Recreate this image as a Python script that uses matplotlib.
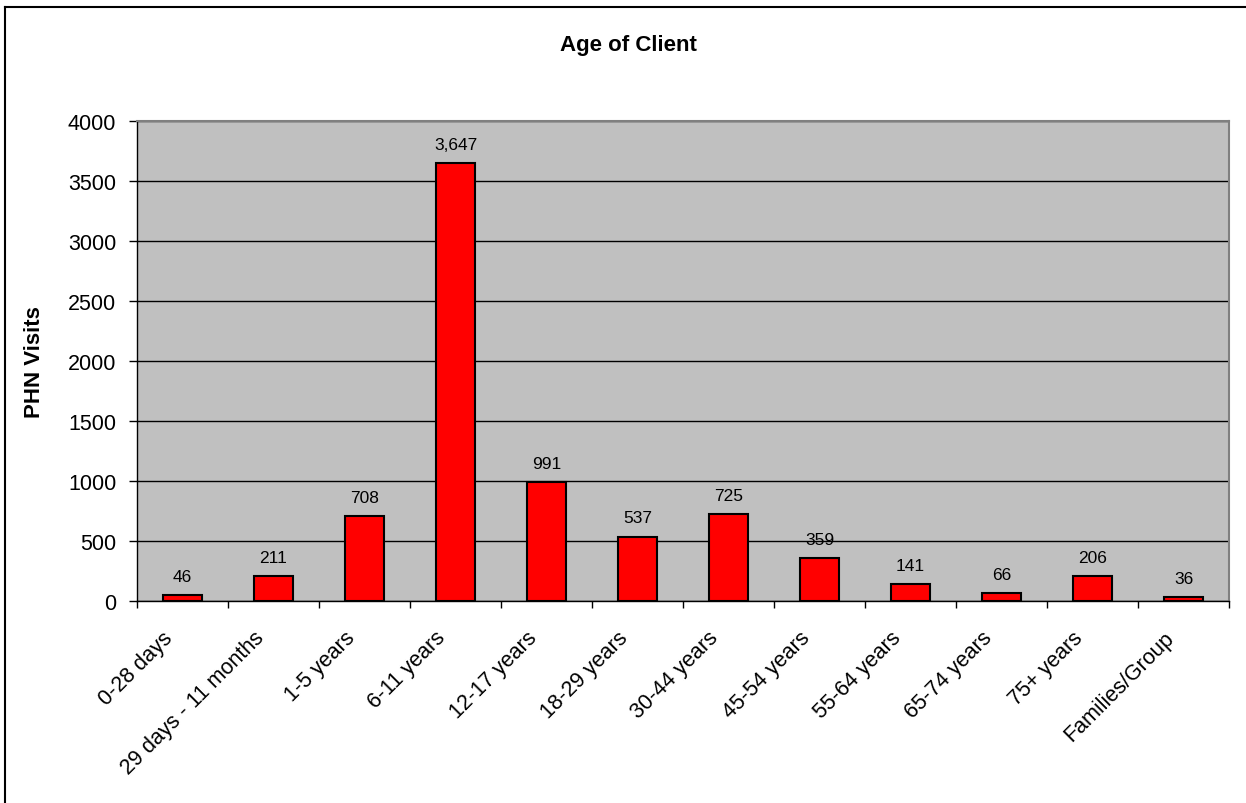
import matplotlib
matplotlib.use("Agg")
import matplotlib.pyplot as plt
from matplotlib.lines import Line2D
from matplotlib.transforms import ScaledTranslation
import numpy as np

categories = ["0-28 days", "29 days - 11 months", "1-5 years", "6-11 years",
              "12-17 years", "18-29 years", "30-44 years", "45-54 years",
              "55-64 years", "65-74 years", "75+ years", "Families/Group"]
values = [46, 211, 708, 3647, 991, 537, 725, 359, 141, 66, 206, 36]
value_labels = ["46", "211", "708", "3,647", "991", "537", "725", "359",
                "141", "66", "206", "36"]
yticks = [0, 500, 1000, 1500, 2000, 2500, 3000, 3500, 4000]

plt.rcParams['font.family'] = ['Liberation Sans', 'DejaVu Sans']

fig = plt.figure(figsize=(12.46, 8.04), dpi=100)
ax = fig.add_axes([137/1246, 1-602/804, (1229-137)/1246, (602-122)/804])
ax.set_facecolor('#C0C0C0')

x = np.arange(len(categories))
ax.bar(x, values, width=0.42, color='#FF0000', edgecolor='black',
       linewidth=1.5, zorder=3)

for xi, v, lab in zip(x, values, value_labels):
    ax.annotate(lab, (xi, v), xytext=(0, 8), textcoords='offset points',
                ha='center', va='bottom', fontsize=12.5, color='black', zorder=4)

ax.set_xlim(-0.5, len(categories) - 0.5)
ax.set_ylim(0, 4000)
ax.set_yticks(yticks)
ax.set_yticklabels([str(t) for t in yticks], fontsize=15.5)
ax.yaxis.grid(True, color='black', linewidth=1)
ax.set_axisbelow(True)

ax.set_xticks(x)
ax.set_xticklabels(categories, rotation=45, ha='right', rotation_mode='anchor',
                   va='center', fontsize=15.5)
ax.tick_params(axis='x', which='major', length=0, pad=24)
shift = ScaledTranslation(-13/100, 0, fig.dpi_scale_trans)
for lbl in ax.get_xticklabels():
    lbl.set_transform(lbl.get_transform() + shift)
ax.set_xticks(np.arange(-0.5, len(categories)), minor=True)
ax.tick_params(axis='x', which='minor', length=5, width=1, color='black', direction='out')
ax.tick_params(axis='y', length=6, width=1, color='black', pad=9, direction='out')

for s in ['top', 'right']:
    ax.spines[s].set_color('#808080')
    ax.spines[s].set_linewidth(1.5)
for s in ['left', 'bottom']:
    ax.spines[s].set_color('black')
    ax.spines[s].set_linewidth(1)

ax.set_ylabel("PHN Visits", fontsize=16, fontweight='bold')
ax.yaxis.set_label_coords((45-137)/1092, 0.5)

fig.text(628/1246, 1-45/804, "Age of Client", ha='center', va='center',
         fontsize=16, fontweight='bold')

# outer chart border (left and top visible)
fig.add_artist(Line2D([5/1246, 5/1246], [0, 1-8/804], transform=fig.transFigure,
                      color='black', linewidth=1.5))
fig.add_artist(Line2D([5/1246, 1], [1-8/804, 1-8/804], transform=fig.transFigure,
                      color='black', linewidth=1.5))

fig.savefig("out.png", dpi=100)
